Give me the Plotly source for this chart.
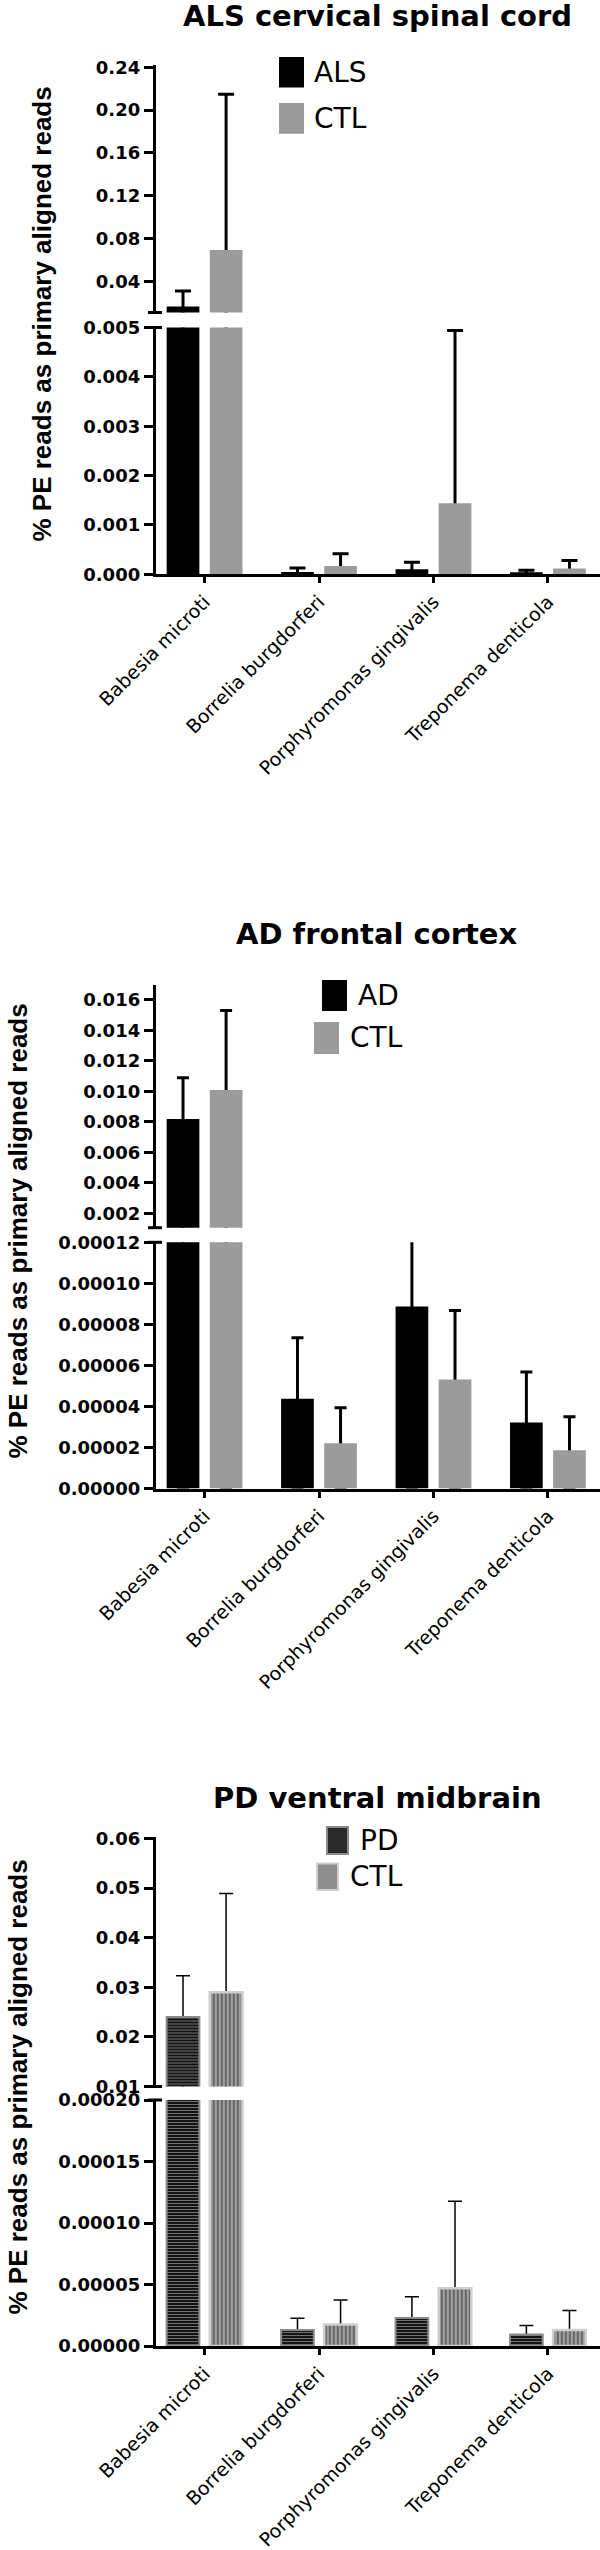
import plotly.graph_objects as go

W, H = 600, 2550

species = ["Babesia microti", "Borrelia burgdorferi",
           "Porphyromonas gingivalis", "Treponema denticola"]

# ALS cervical spinal cord (mean and upper error)
als_mean = [0.0165, 0.000047, 0.0001, 0.00004]
als_err = [0.0145, 0.000078, 0.00014, 0.000038]
als_ctl_mean = [0.0694, 0.000164, 0.00144, 0.000117]
als_ctl_err = [0.1455, 0.000249, 0.0035, 0.000163]

# AD frontal cortex
ad_mean = [0.0082, 0.0000437, 0.0000887, 0.0000322]
ad_err = [0.0027, 0.0000298, 0.0000363, 0.0000246]
ad_ctl_mean = [0.0101, 0.0000221, 0.0000532, 0.0000187]
ad_ctl_err = [0.0052, 0.0000173, 0.0000336, 0.0000163]

# PD ventral midbrain
pd_mean = [0.0240, 0.0000131, 0.0000228, 0.0000094]
pd_err = [0.0083, 0.0000094, 0.0000172, 0.0000072]
pd_ctl_mean = [0.0290, 0.0000175, 0.0000469, 0.0000131]
pd_ctl_err = [0.0199, 0.0000200, 0.0000709, 0.0000157]

y_title = "% PE reads as primary aligned reads"


def px(x):
    # horizontal pixel -> paper fraction
    return x / W


def py(y):
    # vertical pixel (from top) -> paper fraction
    return 1 - y / H


black_bar = dict(color="black", line=dict(width=0))
grey_bar = dict(color="#9b9b9b", line=dict(width=0))
pd_bar = dict(color="#151515", line=dict(color="#8a8a8a", width=2),
              pattern=dict(shape="-", fgcolor="#7a7a7a", bgcolor="#151515",
                           size=3, solidity=0.3, fillmode="replace"))
pd_ctl_bar = dict(color="#8e8e8e", line=dict(color="#cfcfcf", width=2.5),
                  pattern=dict(shape="|", fgcolor="#5a5a5a", bgcolor="#a0a0a0",
                               size=4, solidity=0.4, fillmode="replace"))

panels = [
    dict(title="ALS cervical spinal cord", title_y=16,
         groups=[("ALS", als_mean, als_err, black_bar, "black", "black"),
                 ("CTL", als_ctl_mean, als_ctl_err, grey_bar, "#9b9b9b", "#9b9b9b")],
         upper=(64.6, 312.5), upper_range=[0.011, 0.2425], upper_dtick=0.04, upper_fmt=".2f",
         lower=(327.5, 574.2), lower_range=[0, 0.005001], lower_dtick=0.001, lower_fmt=".3f",
         ytitle=(42, 314.5),
         legend=[(280, 58, 303, 86.5, 312), (280, 104, 303, 132.7, 312)],
         err_w=3, cap=8),
    dict(title="AD frontal cortex", title_y=933.6,
         groups=[("AD", ad_mean, ad_err, black_bar, "black", "black"),
                 ("CTL", ad_ctl_mean, ad_ctl_err, grey_bar, "#9b9b9b", "#9b9b9b")],
         upper=(984.6, 1227.7), upper_range=[0.00107, 0.017], upper_dtick=0.002, upper_fmt=".3f",
         lower=(1242.3, 1488.5), lower_range=[0, 0.00012003], lower_dtick=0.00002, lower_fmt=".5f",
         ytitle=(17, 1231.5),
         legend=[(323, 981, 346, 1010, 356), (315, 1023, 338, 1053, 348)],
         err_w=3, cap=6),
    dict(title="PD ventral midbrain", title_y=1798,
         groups=[("PD", pd_mean, pd_err, pd_bar, "#2a2a2a", "#8a8a8a"),
                 ("CTL", pd_ctl_mean, pd_ctl_err, pd_ctl_bar, "#8e8e8e", "#cfcfcf")],
         upper=(1836.5, 2086.5), upper_range=[0.00999, 0.0604], upper_dtick=0.01, upper_fmt=".2f",
         lower=(2100, 2346), lower_range=[0, 0.00020005], lower_dtick=0.00005, lower_fmt=".5f",
         ytitle=(17, 2087.5),
         legend=[(327, 1827, 348, 1854, 358), (317, 1863.5, 338, 1890, 348)],
         err_w=1.5, cap=7),
]

fig = go.Figure()
layout = {}
annotations = []
shapes = []

tick_font = dict(family="DejaVu Sans", size=18, color="black", weight="bold")

for i, p in enumerate(panels):
    xid = "x" if i == 0 else f"x{i + 1}"
    n_low, n_up = 2 * i + 1, 2 * i + 2
    y_low = "y" if n_low == 1 else f"y{n_low}"
    y_up = f"y{n_up}"

    for yref in (y_low, y_up):
        for name, mean, err, marker, _, _ in p["groups"]:
            # error bar drawn beneath the bar so only the part above it shows
            fig.add_trace(go.Bar(
                x=species, y=mean, xaxis=xid, yaxis=yref, offsetgroup=name,
                marker=dict(color="rgba(0,0,0,0)", line=dict(width=0)),
                error_y=dict(type="data", symmetric=False, array=err, arrayminus=mean,
                             color="black", thickness=p["err_w"], width=p["cap"]),
                showlegend=False, hoverinfo="skip"))
            fig.add_trace(go.Bar(
                x=species, y=mean, xaxis=xid, yaxis=yref, offsetgroup=name,
                name=name, marker=marker, showlegend=False))

    layout[f"xaxis{'' if i == 0 else i + 1}"] = dict(
        domain=[px(155.8), 1], range=[-0.426, 3.455], anchor=y_low, type="category",
        showline=True, linecolor="black", linewidth=3, ticks="outside", ticklen=6,
        tickwidth=3, tickcolor="black", tickangle=-45, automargin=False,
        tickfont=dict(family="DejaVu Sans", size=19, color="black"),
        showgrid=False, zeroline=False)

    axis_common = dict(anchor=xid, showline=True, linecolor="black", linewidth=3,
                       ticks="outside", ticklen=9, tickwidth=3, tickcolor="black",
                       tickfont=tick_font, showgrid=False, zeroline=False, tick0=0,
                       automargin=False)
    layout[f"yaxis{'' if n_low == 1 else n_low}"] = dict(
        domain=[py(p["lower"][1]), py(p["lower"][0])], range=p["lower_range"],
        dtick=p["lower_dtick"], tickformat=p["lower_fmt"], **axis_common)
    layout[f"yaxis{n_up}"] = dict(
        domain=[py(p["upper"][1]), py(p["upper"][0])], range=p["upper_range"],
        dtick=p["upper_dtick"], tickformat=p["upper_fmt"], **axis_common)

    # panel title
    annotations.append(dict(text=p["title"], x=px(377), y=py(p["title_y"]),
                            xref="paper", yref="paper", showarrow=False,
                            xanchor="center", yanchor="middle",
                            font=dict(family="DejaVu Sans", size=29, color="black", weight="bold")))
    # y axis title
    annotations.append(dict(text=y_title, x=px(p["ytitle"][0]), y=py(p["ytitle"][1]),
                            xref="paper", yref="paper", showarrow=False, textangle=-90,
                            xanchor="center", yanchor="middle",
                            font=dict(family="Liberation Sans", size=26, color="black",
                                      weight="bold")))
    # axis break caps
    for yb in (p["upper"][1], p["lower"][0]):
        shapes.append(dict(type="line", xref="paper", yref="paper",
                           x0=px(148), x1=px(162), y0=py(yb), y1=py(yb),
                           line=dict(color="black", width=3)))
    # legend boxes and labels
    for (x0, y0, x1, y1, tx), (name, _, _, _, fill, edge) in zip(p["legend"], p["groups"]):
        shapes.append(dict(type="rect", xref="paper", yref="paper",
                           x0=px(x0), x1=px(x1), y0=py(y1), y1=py(y0),
                           fillcolor=fill, line=dict(color=edge, width=2)))
        annotations.append(dict(text=name, x=px(tx), y=py((y0 + y1) / 2),
                                xref="paper", yref="paper", showarrow=False,
                                xanchor="left", yanchor="middle",
                                font=dict(family="DejaVu Sans", size=28, color="black")))

fig.update_layout(
    width=W, height=H,
    margin=dict(l=0, r=0, t=0, b=0, autoexpand=False),
    paper_bgcolor="white", plot_bgcolor="white",
    barmode="group", bargap=0.247, bargroupgap=0.241,
    showlegend=False,
    annotations=annotations, shapes=shapes,
    **layout)

fig.write_html("out.html", config={"displayModeBar": False},
               post_script="document.body.style.margin='0';")
